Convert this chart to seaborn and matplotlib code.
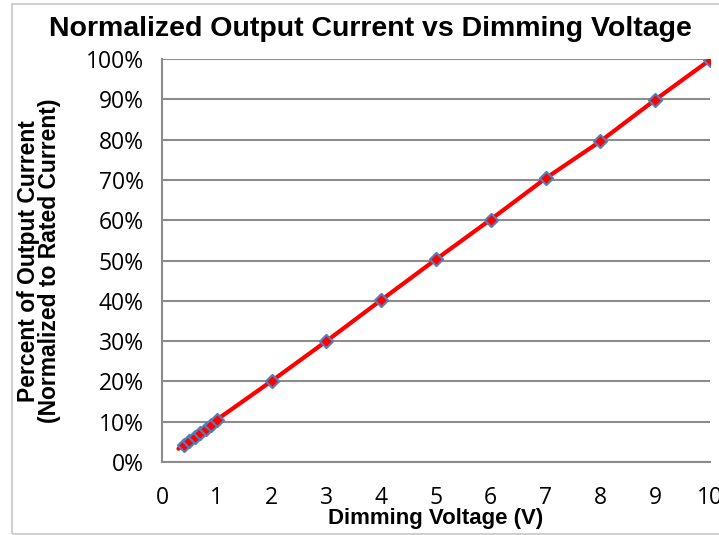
import matplotlib
matplotlib.use("Agg")
import matplotlib.pyplot as plt
import matplotlib.ticker as mticker
import pandas as pd
import seaborn as sns

# ---------------------------------------------------------------------------
# Data
# ---------------------------------------------------------------------------
voltage = [0.3, 0.4, 0.5, 0.6, 0.7, 0.8, 0.9, 1.0, 2, 3, 4, 5, 6, 7, 8, 9, 10]
current_pct = [3.3, 4.2, 5.1, 6.1, 7.1, 8.1, 9.2, 10.5, 20.1, 30.0, 40.2,
               50.3, 60.2, 70.4, 79.6, 89.9, 99.8]
x_ticks = list(range(0, 11))
y_ticks = list(range(0, 101, 10))

df = pd.DataFrame({"Voltage": voltage, "Current": current_pct})

sns.set_style("white")
plt.rcParams["font.family"] = ["Open Sans", "DejaVu Sans"]
plt.rcParams["text.color"] = "black"
plt.rcParams["axes.labelcolor"] = "black"

fig = plt.figure(figsize=(7.19, 5.35), dpi=100)
ax = fig.add_axes([0.2253, 0.1364, 0.762, 0.753])

sns.lineplot(data=df, x="Voltage", y="Current", ax=ax, color="#FF0000",
             linewidth=3, zorder=3)
sns.scatterplot(data=df.iloc[1:], x="Voltage", y="Current", ax=ax,
                marker="D", s=45, color="#FF0000", edgecolor="#4F81BD",
                linewidth=1.5, zorder=4)

ax.set_xlim(0, 10)
ax.set_ylim(0, 100)
ax.set_xticks(x_ticks)
ax.set_yticks(y_ticks)
ax.yaxis.set_major_formatter(mticker.FuncFormatter(lambda v, _: f"{v:.0f}%"))
ax.yaxis.grid(True, color="#8C8C8C", linewidth=1.5)
ax.xaxis.grid(False)
for side in ("top", "right"):
    ax.spines[side].set_visible(False)
for side in ("left", "bottom"):
    ax.spines[side].set_color("#8C8C8C")
    ax.spines[side].set_linewidth(1.5)
ax.tick_params(axis="both", direction="out", length=6, width=1.5,
               color="#8C8C8C", labelcolor="black", labelsize=16.5)
ax.tick_params(axis="y", pad=7)
ax.tick_params(axis="x", pad=11)
ax.set_axisbelow(True)

ax.set_xlabel("Dimming Voltage (V)", family="Liberation Sans",
              fontweight="bold", fontsize=16, labelpad=-1)
ax.set_ylabel("Percent of Output Current\n(Normalized to Rated Current)",
              family="Liberation Sans", fontweight="bold", fontsize=16.5,
              linespacing=0.9, labelpad=18)
fig.suptitle("Normalized Output Current vs Dimming Voltage",
             family="Liberation Sans", fontweight="bold", fontsize=20.5,
             x=0.515, y=0.97)

fig.patches.append(plt.Rectangle((12 / 719, 0.002), 1.0, 0.99,
                                 transform=fig.transFigure, fill=False,
                                 edgecolor="#D0D0D0", linewidth=1.5))

fig.savefig("out.png", dpi=100)
plt.close(fig)
